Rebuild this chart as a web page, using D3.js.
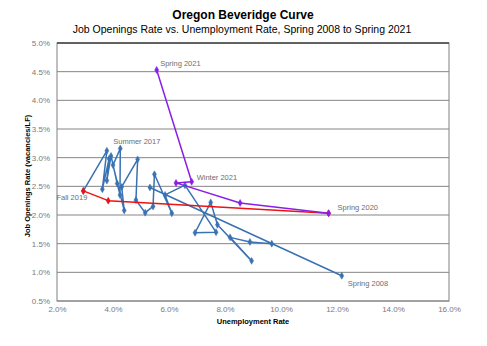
<!DOCTYPE html>
<html>
<head>
<meta charset="utf-8">
<script src="https://cdn.jsdelivr.net/npm/d3@7"></script>
<style>
  html, body { margin: 0; padding: 0; background: #fff; }
  svg { display: block; font-family: "Liberation Sans", Arial, sans-serif; }
</style>
</head>
<body>
<svg id="chart" width="487" height="346"></svg>
<script>
// ---- data (percent) ----
const blueX = [5.32, 12.17, 9.67, 8.89, 8.18, 8.95, 7.73, 7.49, 6.93, 7.68, 6.57, 5.86, 6.10, 5.48, 5.43, 5.15, 4.82, 4.88, 4.31, 4.40, 4.00, 4.26, 4.25, 4.15, 3.93, 3.78, 3.86, 3.62, 3.78, 2.94];
const blueY = [2.48, 0.94, 1.50, 1.53, 1.61, 1.20, 1.83, 2.22, 1.69, 1.70, 2.52, 2.35, 2.03, 2.71, 2.15, 2.04, 2.26, 2.97, 2.49, 2.08, 2.87, 3.16, 2.35, 2.55, 3.03, 2.60, 2.98, 2.45, 3.12, 2.42];
const redX = [2.94, 3.83, 11.70];
const redY = [2.42, 2.25, 2.03];
const purpleX = [11.70, 8.54, 6.25, 6.81, 5.56];
const purpleY = [2.03, 2.21, 2.56, 2.58, 4.53];
const xTicks = [2, 4, 6, 8, 10, 12, 14, 16];
const yTicks = [0.5, 1.0, 1.5, 2.0, 2.5, 3.0, 3.5, 4.0, 4.5, 5.0];
const labelTexts = ["Spring 2008", "Summer 2017", "Fall 2019", "Spring 2020", "Winter 2021", "Spring 2021"];
const labelX = [12.17, 4.26, 2.94, 11.70, 6.81, 5.56];
const labelY = [0.94, 3.16, 2.42, 2.03, 2.58, 4.53];
const labelPos = ["br", "t", "bl", "r", "tr", "tr2"];
const titleText = "Oregon Beveridge Curve";
const subtitleText = "Job Openings Rate vs. Unemployment Rate, Spring 2008 to Spring 2021";
const xTitle = "Unemployment Rate";
const yTitle = "Job Openings Rate (vacancies/LF)";

// ---- layout ----
const svg = d3.select("#chart");
const L = 57, R = 449, T = 43, B = 301;
const x = d3.scaleLinear().domain([2, 16]).range([L, R]);
const y = d3.scaleLinear().domain([0.5, 5]).range([B, T]);
const fmt = d => d3.format(".1f")(d) + "%";

// titles
svg.append("text").attr("x", 243).attr("y", 19).attr("text-anchor", "middle")
  .attr("font-size", 12).attr("font-weight", "bold").attr("fill", "#000").text(titleText);
svg.append("text").attr("x", 242).attr("y", 33).attr("text-anchor", "middle")
  .attr("font-size", 10.5).attr("fill", "#000").text(subtitleText);

// gridlines
svg.append("g").selectAll("line").data(yTicks).join("line")
  .attr("x1", L).attr("x2", R).attr("y1", d => y(d)).attr("y2", d => y(d))
  .attr("stroke", "#858585").attr("stroke-width", 1);

// plot border
svg.append("rect").attr("x", L).attr("y", T).attr("width", R - L).attr("height", B - T)
  .attr("fill", "none").attr("stroke", "#808080").attr("stroke-width", 1);
svg.append("line").attr("x1", L).attr("x2", R).attr("y1", T).attr("y2", T)
  .attr("stroke", "#222").attr("stroke-width", 1);

// axes
const yAxis = svg.append("g").attr("transform", `translate(${L},0)`)
  .call(d3.axisLeft(y).tickValues(yTicks).tickFormat(fmt).tickSize(0).tickPadding(7));
const xAxis = svg.append("g").attr("transform", `translate(0,${B})`)
  .call(d3.axisBottom(x).tickValues(xTicks).tickFormat(fmt).tickSize(0).tickPadding(5));
[xAxis, yAxis].forEach(g => {
  g.select(".domain").remove();
  g.selectAll("text").attr("fill", "#7a7a7a").attr("font-size", 8)
    .attr("font-family", "Liberation Sans, Arial, sans-serif");
});

// axis titles
svg.append("text").attr("x", 253).attr("y", 324).attr("text-anchor", "middle")
  .attr("font-size", 7.5).attr("font-weight", "bold").text(xTitle);
svg.append("text").attr("transform", "translate(30,176) rotate(-90)").attr("text-anchor", "middle")
  .attr("font-size", 7.5).attr("font-weight", "bold").text(yTitle);

// series
function drawSeries(xs, ys, color) {
  const pts = xs.map((v, i) => [v, ys[i]]);
  const line = d3.line().x(d => x(d[0])).y(d => y(d[1]));
  svg.append("path").datum(pts).attr("d", line).attr("fill", "none")
    .attr("stroke", color).attr("stroke-width", 1.5).attr("stroke-linejoin", "round");
  svg.append("g").selectAll("path").data(pts).join("path")
    .attr("d", d3.symbol().type(d3.symbolDiamond).size(14))
    .attr("transform", d => `translate(${x(d[0])},${y(d[1])})`)
    .attr("fill", color).attr("stroke", color).attr("stroke-width", 0.5);
}
drawSeries(blueX, blueY, "#3872b2");
drawSeries(redX, redY, "#ee1111");
drawSeries(purpleX, purpleY, "#8a1ee6");

// point labels
const off = {br: [6, 10, "start"], t: [-7, -4, "start"], bl: [4, 9.5, "end"], r: [9, -3, "start"], tr: [5, -2, "start"], tr2: [3.5, -4, "start"]};
const labels = labelTexts.map((t, i) => ({text: t, x: labelX[i], y: labelY[i], pos: labelPos[i]}));
svg.append("g").selectAll("text").data(labels).join("text")
  .attr("x", d => x(d.x) + off[d.pos][0])
  .attr("y", d => y(d.y) + off[d.pos][1])
  .attr("text-anchor", d => off[d.pos][2])
  .attr("font-size", 7.5).attr("fill", "#6e6e6e").text(d => d.text);
</script>
</body>
</html>
